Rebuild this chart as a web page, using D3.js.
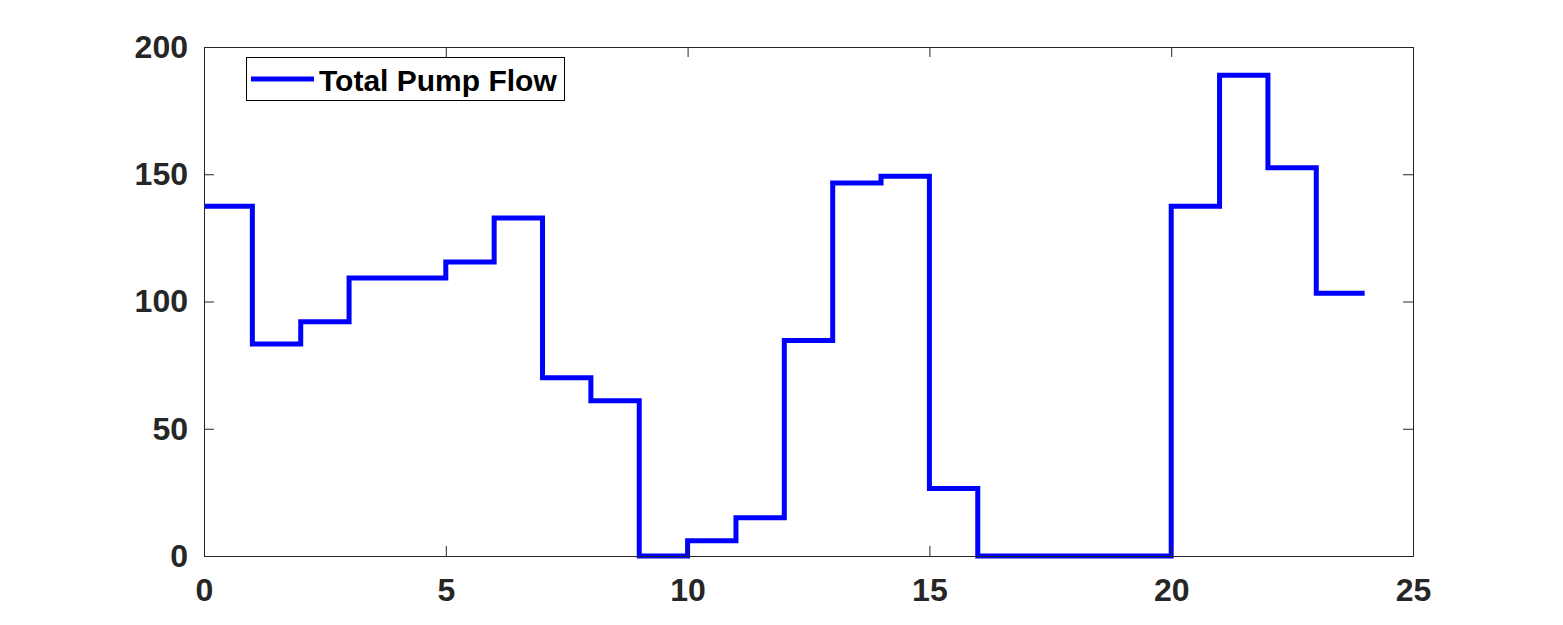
<!DOCTYPE html>
<html>
<head>
<meta charset="utf-8">
<script src="https://cdn.jsdelivr.net/npm/d3@7"></script>
<style>
  html, body { margin: 0; padding: 0; background: #fff; }
  svg text { font-family: "Liberation Sans", Arial, sans-serif; font-weight: bold; }
</style>
</head>
<body>
<svg id="chart" width="1563" height="625"></svg>
<script>
// hourly total pump flow (stairs, value holds until next hour)
const hours = d3.range(0, 25);
const flow = [137.4, 83.3, 92, 109.2, 109.2, 115.5, 132.8, 70, 61, 0,
              6, 15, 84.7, 146.6, 149.2, 26.5, 0, 0, 0, 0,
              137.4, 188.9, 152.6, 103.2, 103.2];
const xTicks = [0, 5, 10, 15, 20, 25];
const yTicks = [0, 50, 100, 150, 200];
const seriesName = "Total Pump Flow";

const svg = d3.select("#chart");
const margin = { left: 204, right: 150, top: 47, bottom: 69 };
const width = 1563, height = 625;

const x = d3.scaleLinear().domain([0, 25]).range([margin.left, width - margin.right]);
const y = d3.scaleLinear().domain([0, 200]).range([height - margin.bottom, margin.top]);

const axisColor = "#262626";
const tickLen = 10;

// data line
const line = d3.line()
  .x((d) => x(d[0]))
  .y((d) => y(d[1]))
  .curve(d3.curveStepAfter);

svg.append("path")
  .datum(hours.map((h, i) => [h, flow[i]]))
  .attr("d", line)
  .attr("fill", "none")
  .attr("stroke", "#0000ff")
  .attr("stroke-width", 5)
  .attr("stroke-linejoin", "miter");

// axes box with inward ticks
const axisFont = (g) => {
  g.select(".domain").remove();
  g.selectAll(".tick line").attr("stroke", axisColor);
  g.selectAll(".tick text")
    .attr("fill", axisColor)
    .style("font-size", "32px");
};

svg.append("g")
  .attr("transform", `translate(0,${y(0)})`)
  .call(d3.axisBottom(x).tickValues(xTicks).tickSize(-tickLen).tickPadding(22).tickFormat(d3.format("d")))
  .call(axisFont);

svg.append("g")
  .attr("transform", `translate(0,${y(200)})`)
  .call(d3.axisTop(x).tickValues(xTicks).tickSize(-tickLen).tickFormat(""))
  .call(axisFont);

svg.append("g")
  .attr("transform", `translate(${x(0)},0)`)
  .call(d3.axisLeft(y).tickValues(yTicks).tickSize(-tickLen).tickPadding(16).tickFormat(d3.format("d")))
  .call(axisFont);

svg.append("g")
  .attr("transform", `translate(${x(25)},0)`)
  .call(d3.axisRight(y).tickValues(yTicks).tickSize(-tickLen).tickFormat(""))
  .call(axisFont);

svg.append("rect")
  .attr("x", x(0) + 0.5)
  .attr("y", y(200) + 0.5)
  .attr("width", x(25) - x(0))
  .attr("height", y(0) - y(200))
  .attr("fill", "none")
  .attr("stroke", axisColor)
  .attr("stroke-width", 1);

// legend
const legend = svg.append("g").attr("transform", "translate(246,57)");
legend.append("rect")
  .attr("x", 0.5).attr("y", 0.5)
  .attr("width", 318).attr("height", 43)
  .attr("fill", "#fff")
  .attr("stroke", "#000")
  .attr("stroke-width", 1);
legend.append("line")
  .attr("x1", 5).attr("x2", 68)
  .attr("y1", 22).attr("y2", 22)
  .attr("stroke", "#0000ff")
  .attr("stroke-width", 5);
legend.append("text")
  .attr("x", 73).attr("y", 34)
  .attr("fill", "#000")
  .style("font-size", "30px")
  .text(seriesName);
</script>
</body>
</html>
